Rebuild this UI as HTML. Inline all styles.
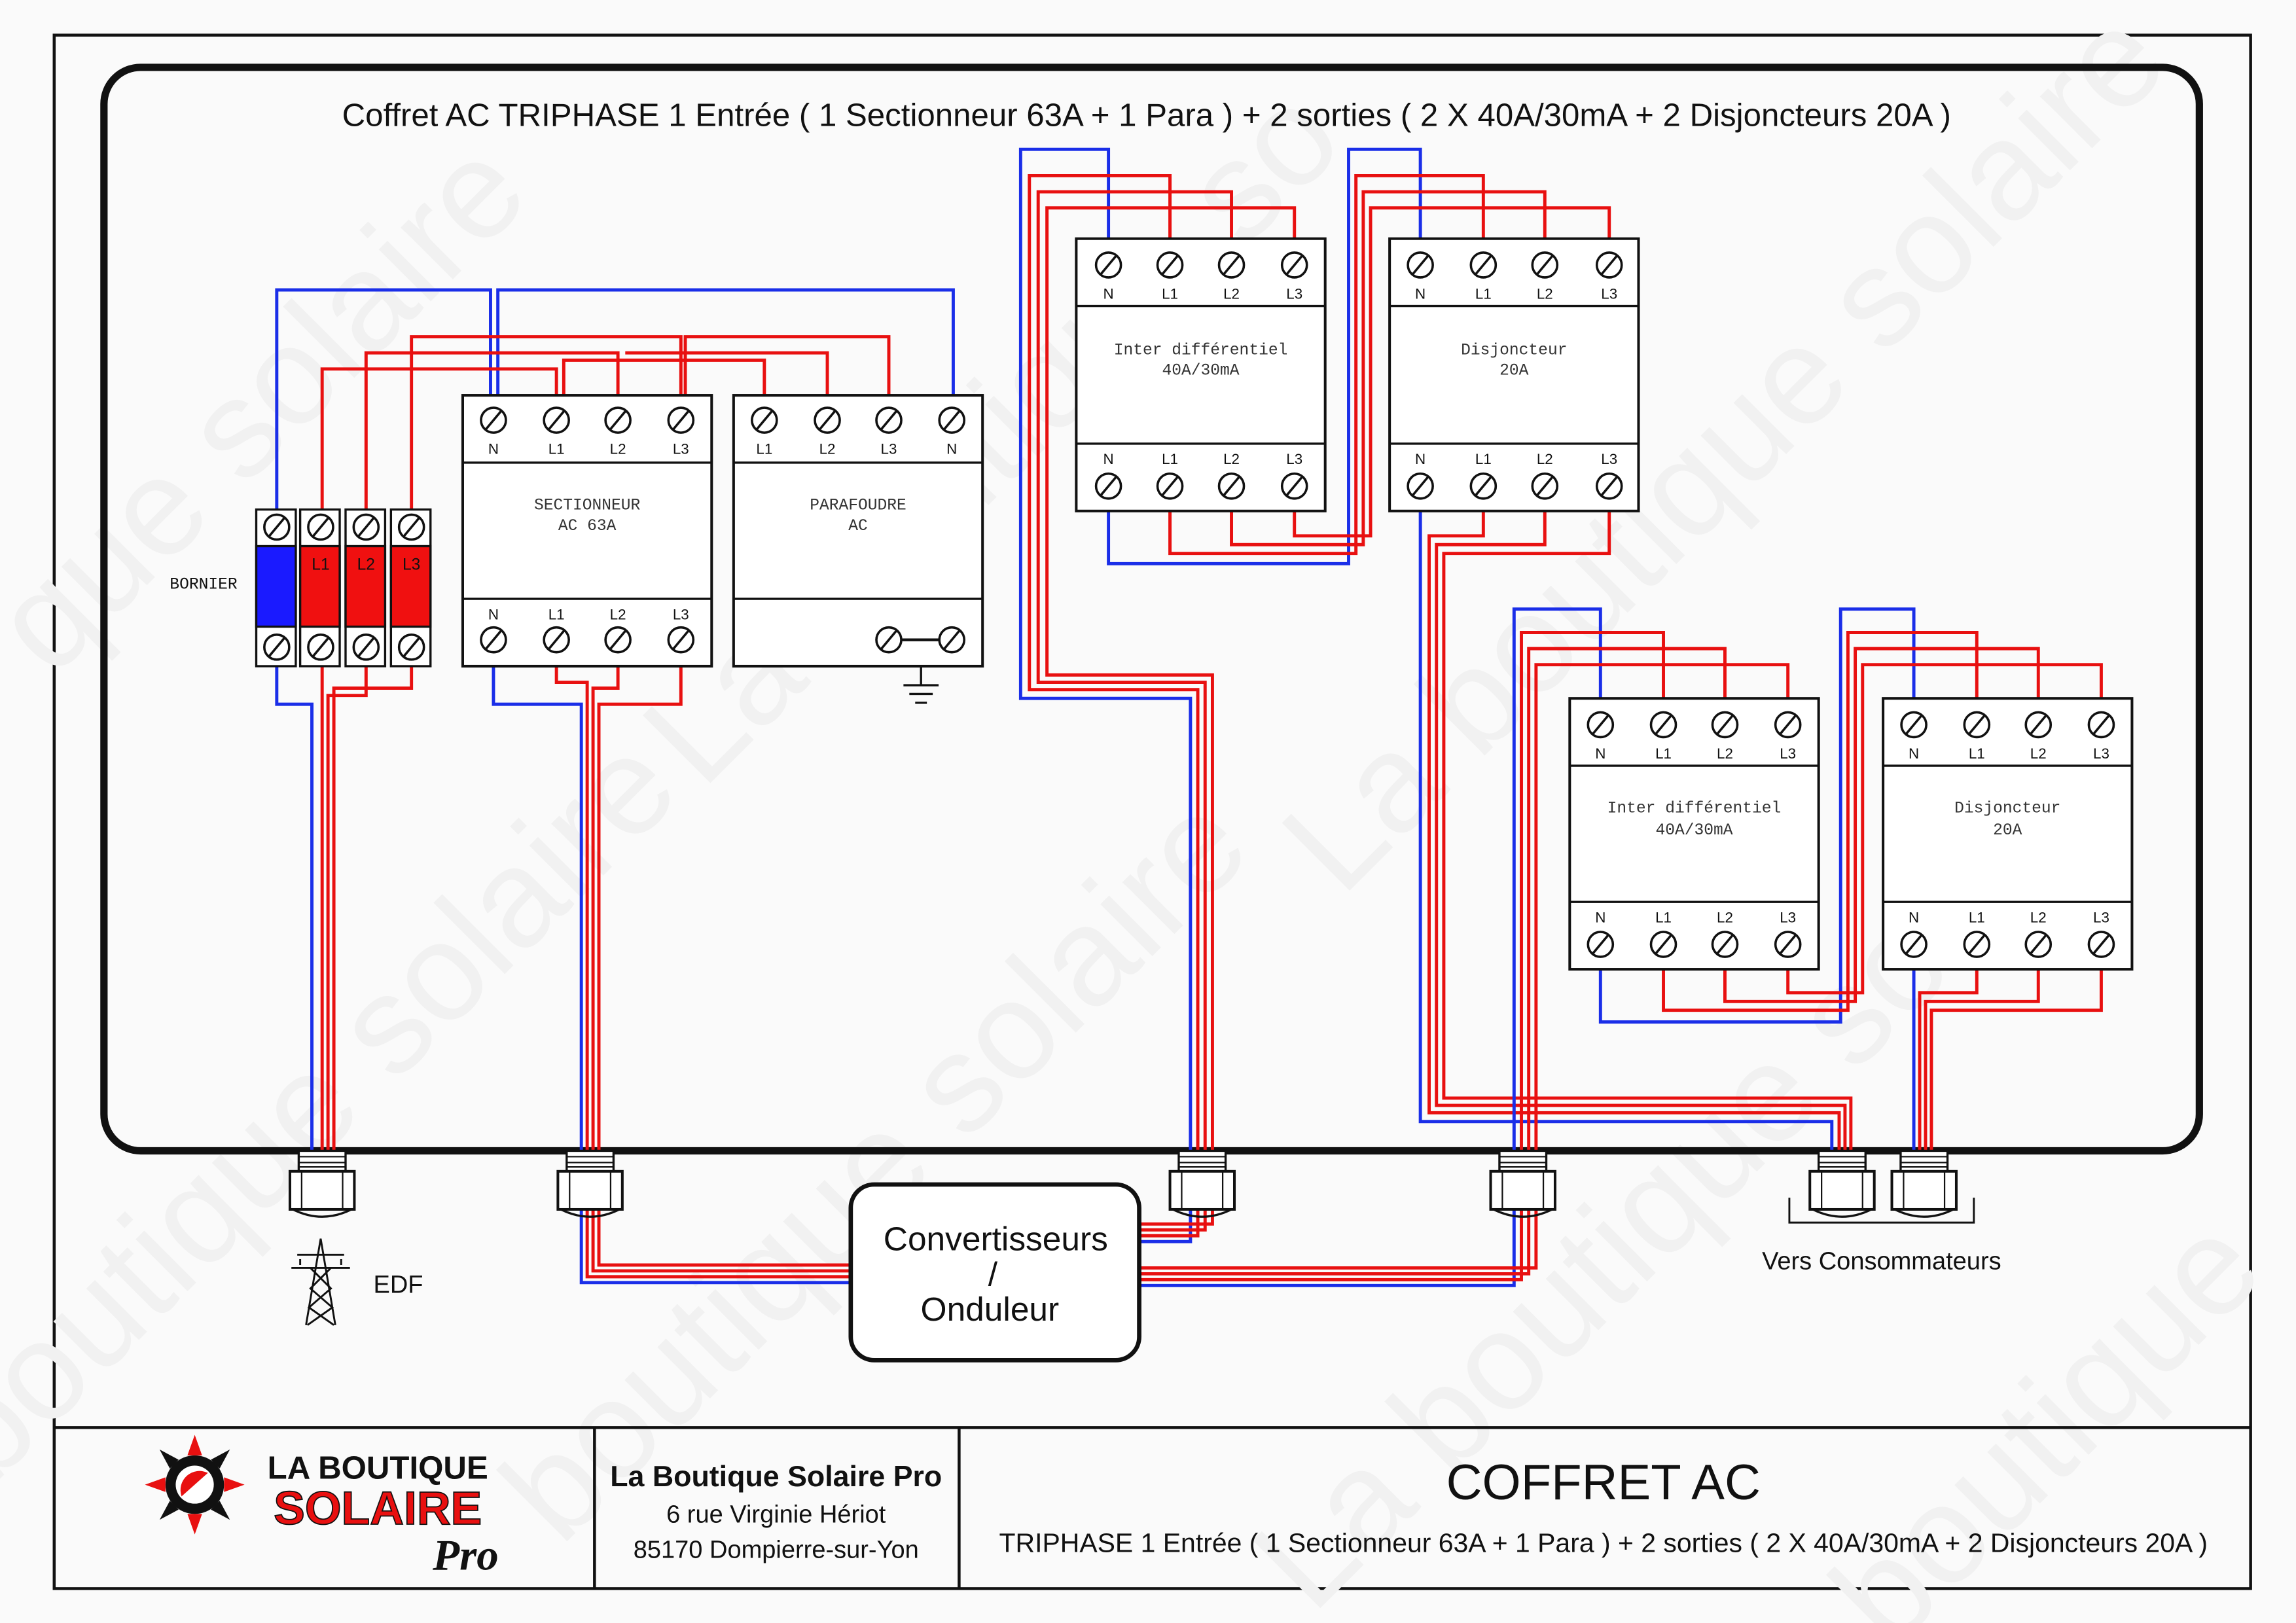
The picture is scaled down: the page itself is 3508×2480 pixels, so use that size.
<!DOCTYPE html>
<html><head><meta charset="utf-8"><style>html,body{margin:0;padding:0;background:#fafafa}svg{display:block}</style></head><body>
<svg xmlns="http://www.w3.org/2000/svg" width="3508" height="2480" viewBox="0 0 1568 1108.5" preserveAspectRatio="none">
<defs>
<g id="t"><circle r="8.5" fill="#fff" stroke="#111" stroke-width="1.6"/><line x1="-5" y1="6" x2="5" y2="-6" stroke="#111" stroke-width="1.6"/></g>
<g id="gl"><rect x="-16" y="0" width="32" height="14" fill="#fff" stroke="#111" stroke-width="1.5"/><line x1="-16" y1="4" x2="16" y2="4" stroke="#111"/><line x1="-16" y1="8" x2="16" y2="8" stroke="#111"/><line x1="-16" y1="11" x2="16" y2="11" stroke="#111"/><rect x="-22" y="14" width="44" height="26" fill="#fff" stroke="#111" stroke-width="1.8"/><line x1="-14" y1="14" x2="-14" y2="40" stroke="#111"/><line x1="14" y1="14" x2="14" y2="40" stroke="#111"/><path d="M-20 40 Q0 50 20 40" fill="none" stroke="#111" stroke-width="1.5"/></g>
</defs>
<rect width="1568" height="1108.5" fill="#fafafa"/>
<rect x="37" y="24" width="1500" height="1061" fill="#fafafa" stroke="#111" stroke-width="2"/>
<!-- watermark -->
<g font-family="Liberation Sans, sans-serif" font-size="95" fill="#f1f1f1" text-anchor="middle">
<text transform="translate(200,300) rotate(-45)">que solaire</text>
<text transform="translate(700,320) rotate(-45)">La boutique so</text>
<text transform="translate(1200,330) rotate(-45)">La boutique solaire</text>
<text transform="translate(230,780) rotate(-45)">boutique solaire</text>
<text transform="translate(620,820) rotate(-45)">boutique solaire</text>
<text transform="translate(1180,820) rotate(-45)">La boutique solaire</text>
<text transform="translate(1420,1000) rotate(-45)">boutique</text>
</g>
<rect x="71" y="46" width="1431" height="740" rx="25" fill="none" stroke="#111" stroke-width="5"/>
<text x="783" y="86" font-family="Liberation Sans, sans-serif" font-size="22" text-anchor="middle" fill="#111">Coffret AC TRIPHASE 1 Entrée ( 1 Sectionneur 63A + 1 Para ) + 2 sorties ( 2 X 40A/30mA  + 2  Disjoncteurs 20A )</text>

<g fill="none" stroke-width="2.2">
<path d="M189 348 V198 H335 V270" stroke="#1a2ee8"/>
<path d="M340 270 V198 H651 V270" stroke="#1a2ee8"/>
<path d="M220 348 V252 H380 V270" stroke="#e81010"/>
<path d="M250 348 V241 H422 V270" stroke="#e81010"/>
<path d="M281 348 V230 H465 V270" stroke="#e81010"/>
<path d="M522 270 V246 H385 V270" stroke="#e81010"/>
<path d="M565 270 V241 H427" stroke="#e81010"/>
<path d="M607 270 V230 H468 V270" stroke="#e81010"/>
<path d="M189 455 V481 H213 V786" stroke="#1a2ee8"/>
<path d="M220 455 V786" stroke="#e81010"/>
<path d="M250 455 V475 H224 V786" stroke="#e81010"/>
<path d="M281 455 V470 H228 V786" stroke="#e81010"/>
<path d="M337 455 V481 H397 V876 H581" stroke="#1a2ee8"/>
<path d="M380 455 V466 H401 V872 H581" stroke="#e81010"/>
<path d="M422 455 V470 H405 V868 H581" stroke="#e81010"/>
<path d="M465 455 V481 H409 V864 H581" stroke="#e81010"/>
<path d="M757 163 V102 H697 V477 H813 V848 H778" stroke="#1a2ee8"/>
<path d="M799 163 V120 H703 V471 H818 V844 H778" stroke="#e81010"/>
<path d="M841 163 V131 H709 V466 H823 V840 H778" stroke="#e81010"/>
<path d="M884 163 V142 H715 V461 H828 V836 H778" stroke="#e81010"/>
<path d="M757 349 V385 H921 V102 H970 V163" stroke="#1a2ee8"/>
<path d="M799 349 V378 H926 V120 H1013 V163" stroke="#e81010"/>
<path d="M841 349 V372 H931 V131 H1055 V163" stroke="#e81010"/>
<path d="M884 349 V366 H936 V142 H1099 V163" stroke="#e81010"/>
<path d="M970 349 V766 H1251 V786" stroke="#1a2ee8"/>
<path d="M1013 349 V366 H976 V760 H1256 V786" stroke="#e81010"/>
<path d="M1055 349 V372 H981 V755 H1260 V786" stroke="#e81010"/>
<path d="M1099 349 V378 H986 V750 H1264 V786" stroke="#e81010"/>
<path d="M1093 477 V416 H1034 V878 H778" stroke="#1a2ee8"/>
<path d="M1136 477 V432 H1039 V874 H778" stroke="#e81010"/>
<path d="M1178 477 V443 H1044 V870 H778" stroke="#e81010"/>
<path d="M1221 477 V454 H1049 V866 H778" stroke="#e81010"/>
<path d="M1093 662 V698 H1257 V416 H1307 V477" stroke="#1a2ee8"/>
<path d="M1136 662 V690 H1262 V432 H1350 V477" stroke="#e81010"/>
<path d="M1178 662 V684 H1267 V443 H1392 V477" stroke="#e81010"/>
<path d="M1221 662 V678 H1272 V454 H1435 V477" stroke="#e81010"/>
<path d="M1307 662 V786" stroke="#1a2ee8"/>
<path d="M1350 662 V678 H1311 V786" stroke="#e81010"/>
<path d="M1392 662 V684 H1315 V786" stroke="#e81010"/>
<path d="M1435 662 V690 H1319 V786" stroke="#e81010"/>
</g>

<g stroke="#111" stroke-width="1.5">
<rect x="175" y="348" width="27" height="107" fill="#fff"/><rect x="175" y="373" width="27" height="55" fill="#1a1aff"/>
<rect x="205" y="348" width="27" height="107" fill="#fff"/><rect x="205" y="373" width="27" height="55" fill="#f01010"/>
<rect x="236" y="348" width="27" height="107" fill="#fff"/><rect x="236" y="373" width="27" height="55" fill="#f01010"/>
<rect x="267" y="348" width="27" height="107" fill="#fff"/><rect x="267" y="373" width="27" height="55" fill="#f01010"/>
</g>
<use href="#t" x="189" y="360"/><use href="#t" x="219" y="360"/><use href="#t" x="250" y="360"/><use href="#t" x="281" y="360"/>
<use href="#t" x="189" y="442"/><use href="#t" x="219" y="442"/><use href="#t" x="250" y="442"/><use href="#t" x="281" y="442"/>
<g font-family="Liberation Sans, sans-serif" font-size="11" fill="#111" text-anchor="middle"><text x="219" y="389">L1</text><text x="250" y="389">L2</text><text x="281" y="389">L3</text></g>
<text x="139" y="402" font-family="Liberation Mono, monospace" font-size="11" text-anchor="middle" fill="#111">BORNIER</text>

<g fill="#fff" stroke="#111" stroke-width="1.8">
<rect x="316" y="270" width="170" height="185"/><rect x="501" y="270" width="170" height="185"/>
<rect x="735" y="163" width="170" height="186"/><rect x="949" y="163" width="170" height="186"/>
<rect x="1072" y="477" width="170" height="185"/><rect x="1286" y="477" width="170" height="185"/>
</g>
<g stroke="#111" stroke-width="1.5">
<line x1="316" y1="316" x2="486" y2="316"/><line x1="316" y1="409" x2="486" y2="409"/>
<line x1="501" y1="316" x2="671" y2="316"/><line x1="501" y1="409" x2="671" y2="409"/>
<line x1="735" y1="209" x2="905" y2="209"/><line x1="735" y1="303" x2="905" y2="303"/>
<line x1="949" y1="209" x2="1119" y2="209"/><line x1="949" y1="303" x2="1119" y2="303"/>
<line x1="1072" y1="523" x2="1242" y2="523"/><line x1="1072" y1="616" x2="1242" y2="616"/>
<line x1="1286" y1="523" x2="1456" y2="523"/><line x1="1286" y1="616" x2="1456" y2="616"/>
<line x1="607" y1="437" x2="650" y2="437" stroke-width="2"/>
<line x1="629" y1="455" x2="629" y2="468"/><line x1="617" y1="468" x2="641" y2="468"/><line x1="621" y1="474" x2="637" y2="474"/><line x1="625" y1="480" x2="633" y2="480"/>
</g>
<use href="#t" x="337" y="287"/><use href="#t" x="380" y="287"/><use href="#t" x="422" y="287"/><use href="#t" x="465" y="287"/>
<use href="#t" x="337" y="437"/><use href="#t" x="380" y="437"/><use href="#t" x="422" y="437"/><use href="#t" x="465" y="437"/>
<use href="#t" x="522" y="287"/><use href="#t" x="565" y="287"/><use href="#t" x="607" y="287"/><use href="#t" x="650" y="287"/>
<use href="#t" x="607" y="437"/><use href="#t" x="650" y="437"/>
<use href="#t" x="757" y="181"/><use href="#t" x="799" y="181"/><use href="#t" x="841" y="181"/><use href="#t" x="884" y="181"/>
<use href="#t" x="757" y="332"/><use href="#t" x="799" y="332"/><use href="#t" x="841" y="332"/><use href="#t" x="884" y="332"/>
<use href="#t" x="970" y="181"/><use href="#t" x="1013" y="181"/><use href="#t" x="1055" y="181"/><use href="#t" x="1099" y="181"/>
<use href="#t" x="970" y="332"/><use href="#t" x="1013" y="332"/><use href="#t" x="1055" y="332"/><use href="#t" x="1099" y="332"/>
<use href="#t" x="1093" y="495"/><use href="#t" x="1136" y="495"/><use href="#t" x="1178" y="495"/><use href="#t" x="1221" y="495"/>
<use href="#t" x="1093" y="645"/><use href="#t" x="1136" y="645"/><use href="#t" x="1178" y="645"/><use href="#t" x="1221" y="645"/>
<use href="#t" x="1307" y="495"/><use href="#t" x="1350" y="495"/><use href="#t" x="1392" y="495"/><use href="#t" x="1435" y="495"/>
<use href="#t" x="1307" y="645"/><use href="#t" x="1350" y="645"/><use href="#t" x="1392" y="645"/><use href="#t" x="1435" y="645"/>
<g font-family="Liberation Sans, sans-serif" font-size="10" fill="#111" text-anchor="middle">
<text x="337" y="310">N</text><text x="380" y="310">L1</text><text x="422" y="310">L2</text><text x="465" y="310">L3</text>
<text x="337" y="423">N</text><text x="380" y="423">L1</text><text x="422" y="423">L2</text><text x="465" y="423">L3</text>
<text x="522" y="310">L1</text><text x="565" y="310">L2</text><text x="607" y="310">L3</text><text x="650" y="310">N</text>
<text x="757" y="204">N</text><text x="799" y="204">L1</text><text x="841" y="204">L2</text><text x="884" y="204">L3</text>
<text x="757" y="317">N</text><text x="799" y="317">L1</text><text x="841" y="317">L2</text><text x="884" y="317">L3</text>
<text x="970" y="204">N</text><text x="1013" y="204">L1</text><text x="1055" y="204">L2</text><text x="1099" y="204">L3</text>
<text x="970" y="317">N</text><text x="1013" y="317">L1</text><text x="1055" y="317">L2</text><text x="1099" y="317">L3</text>
<text x="1093" y="518">N</text><text x="1136" y="518">L1</text><text x="1178" y="518">L2</text><text x="1221" y="518">L3</text>
<text x="1093" y="630">N</text><text x="1136" y="630">L1</text><text x="1178" y="630">L2</text><text x="1221" y="630">L3</text>
<text x="1307" y="518">N</text><text x="1350" y="518">L1</text><text x="1392" y="518">L2</text><text x="1435" y="518">L3</text>
<text x="1307" y="630">N</text><text x="1350" y="630">L1</text><text x="1392" y="630">L2</text><text x="1435" y="630">L3</text>
</g>
<g font-family="Liberation Mono, monospace" font-size="11" fill="#333" text-anchor="middle">
<text x="401" y="348">SECTIONNEUR</text><text x="401" y="362">AC 63A</text>
<text x="586" y="348">PARAFOUDRE</text><text x="586" y="362">AC</text>
<text x="820" y="242">Inter différentiel</text><text x="820" y="256">40A/30mA</text>
<text x="1034" y="242">Disjoncteur</text><text x="1034" y="256">20A</text>
<text x="1157" y="555">Inter différentiel</text><text x="1157" y="570">40A/30mA</text>
<text x="1371" y="555">Disjoncteur</text><text x="1371" y="570">20A</text>
</g>

<use href="#gl" x="220" y="786"/><use href="#gl" x="403" y="786"/><use href="#gl" x="821" y="786"/><use href="#gl" x="1040" y="786"/><use href="#gl" x="1258" y="786"/><use href="#gl" x="1314" y="786"/>
<path d="M1222 818 V835 H1348 V818" fill="none" stroke="#111" stroke-width="1.3"/>
<text x="1285" y="867" font-family="Liberation Sans, sans-serif" font-size="17" text-anchor="middle" fill="#111">Vers Consommateurs</text>

<rect x="581" y="809" width="197" height="120" rx="16" fill="#fff" stroke="#111" stroke-width="3"/>
<g font-family="Liberation Sans, sans-serif" font-size="23" text-anchor="middle" fill="#111"><text x="680" y="854">Convertisseurs</text><text x="678" y="878">/</text><text x="676" y="902">Onduleur</text></g>

<g stroke="#111" stroke-width="1.3" fill="none">
<path d="M219 846 L209 905 M219 846 L229 905 M203 857 H235 M199 866 H239 M212 866 L226 880 L211 893 L228 905 M226 866 L212 880 L227 893 L210 905 M205 860 V864 M233 860 V864"/>
</g>
<text x="255" y="883" font-family="Liberation Sans, sans-serif" font-size="17" fill="#111">EDF</text>

<g stroke="#111" stroke-width="2"><line x1="37" y1="975" x2="1537" y2="975"/><line x1="406" y1="975" x2="406" y2="1085"/><line x1="655" y1="975" x2="655" y2="1085"/></g>
<g transform="translate(133,1014)">
<circle r="20" fill="#111"/><circle r="13" fill="#fff"/><path d="M-9 8 A13 13 0 0 1 9 -8 Z" fill="#e81010"/>
<g fill="#e81010"><polygon points="0,-34 5,-20 -5,-20"/><polygon points="0,34 5,20 -5,20"/><polygon points="-34,0 -20,5 -20,-5"/><polygon points="34,0 20,5 20,-5"/></g>
<g fill="#111"><polygon points="-24,-24 -11,-17 -17,-11"/><polygon points="24,24 11,17 17,11"/><polygon points="24,-24 17,-11 11,-17"/><polygon points="-24,24 -11,17 -17,11"/></g>
</g>
<text x="258" y="1010" font-family="Liberation Sans, sans-serif" font-weight="bold" font-size="22" text-anchor="middle" fill="#111">LA BOUTIQUE</text>
<text x="258" y="1041" font-family="Liberation Sans, sans-serif" font-weight="bold" font-size="32" text-anchor="middle" fill="#e81010" stroke="#111" stroke-width="0.8">SOLAIRE</text>
<text x="318" y="1072" font-family="Liberation Serif, serif" font-style="italic" font-weight="bold" font-size="30" text-anchor="middle" fill="#111">Pro</text>
<g font-family="Liberation Sans, sans-serif" fill="#111" text-anchor="middle">
<text x="530" y="1015" font-size="20" font-weight="bold">La Boutique Solaire Pro</text>
<text x="530" y="1040" font-size="17">6 rue Virginie Hériot</text>
<text x="530" y="1064" font-size="17">85170 Dompierre-sur-Yon</text>
<text x="1095" y="1024" font-size="34">COFFRET AC</text>
<text x="1095" y="1060" font-size="18.3">TRIPHASE 1 Entrée ( 1 Sectionneur 63A + 1 Para ) + 2 sorties ( 2 X 40A/30mA  + 2  Disjoncteurs 20A )</text>
</g>
</svg>
</body></html>
